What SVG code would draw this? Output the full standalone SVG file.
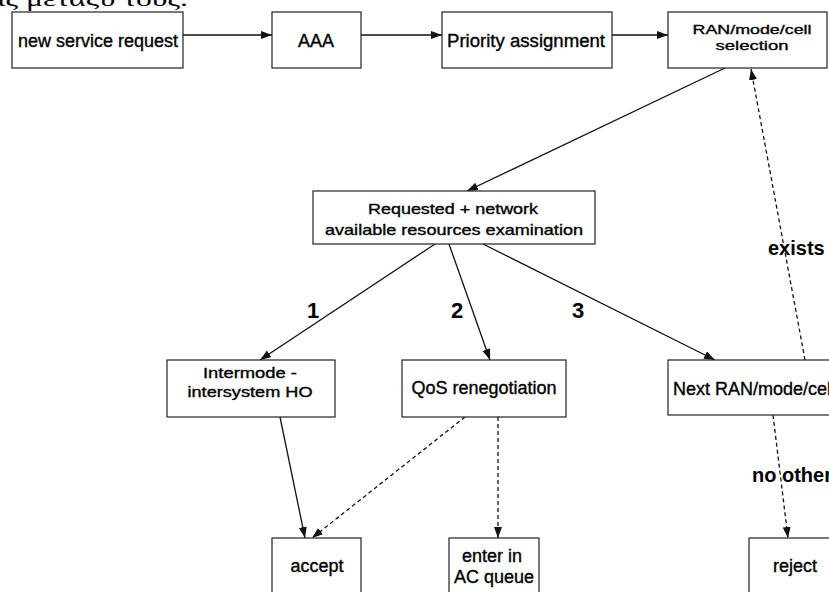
<svg xmlns="http://www.w3.org/2000/svg" width="829" height="592" viewBox="0 0 829 592">
  <style>
    .box { fill: #ffffff; stroke: #222222; stroke-width: 1.2; }
    .t { font-family: "Liberation Sans", Arial, sans-serif; font-size: 18px; fill: #000000; stroke: #000000; stroke-width: 0.35; text-anchor: middle; }
    .sm { font-size: 15px; }
    .xs { font-size: 13.5px; }
    .lbl { font-family: "Liberation Sans", Arial, sans-serif; font-weight: bold; font-size: 20px; fill: #000000; }
    .num { font-size: 22px; }
    .ln { fill: none; stroke: #111111; stroke-width: 1.3; marker-end: url(#arr); }
    .dash { stroke-dasharray: 4 3; }
    .body { font-family: "Liberation Serif", "Times New Roman", serif; font-size: 22px; fill: #000000; }
  </style>
  <defs>
    <marker id="arr" markerUnits="userSpaceOnUse" markerWidth="12" markerHeight="9" refX="11" refY="4" orient="auto">
      <path d="M0,0 L11,4 L0,8 Z" fill="#111111"/>
    </marker>
  </defs>
  <rect width="829" height="592" fill="#ffffff"/>

  <!-- tail of the preceding paragraph, cut by the page edge -->
  <text class="body" x="-3" y="6" textLength="191" lengthAdjust="spacingAndGlyphs">ις μεταξύ τους.</text>

  <g id="connectors">
    <line class="ln" x1="183" y1="35" x2="272" y2="35"/>
    <line class="ln" x1="361" y1="35" x2="442" y2="35"/>
    <line class="ln" x1="612" y1="35" x2="668" y2="35"/>
    <line class="ln" x1="725" y1="68" x2="467" y2="191"/>
    <line class="ln" x1="435" y1="244" x2="260" y2="360"/>
    <line class="ln" x1="449" y1="244" x2="490" y2="360"/>
    <line class="ln" x1="483" y1="244" x2="715" y2="360"/>
    <line class="ln dash" x1="805" y1="360" x2="751" y2="69"/>
    <line class="ln" x1="280" y1="417" x2="305" y2="538"/>
    <line class="ln dash" x1="465" y1="417" x2="312" y2="538"/>
    <line class="ln dash" x1="498" y1="417" x2="498" y2="538"/>
    <line class="ln dash" x1="773" y1="415" x2="788" y2="538"/>
    <text class="lbl num" x="307" y="318">1</text>
    <text class="lbl num" x="451" y="318">2</text>
    <text class="lbl num" x="572" y="318">3</text>
    <text class="lbl" x="768" y="255">exists</text>
    <text class="lbl" x="752" y="482">no other</text>
  </g>

  <g id="new-service-request">
    <rect class="box" x="12" y="12" width="171" height="56"/>
    <text class="t" x="98" y="47" textLength="160" lengthAdjust="spacingAndGlyphs">new service request</text>
  </g>
  <g id="aaa">
    <rect class="box" x="272" y="12" width="89" height="56"/>
    <text class="t" x="316" y="47">AAA</text>
  </g>
  <g id="priority-assignment">
    <rect class="box" x="442" y="12" width="170" height="56"/>
    <text class="t" x="526" y="47" textLength="158" lengthAdjust="spacingAndGlyphs">Priority assignment</text>
  </g>
  <g id="ran-selection">
    <rect class="box" x="668" y="12" width="159" height="56"/>
    <text class="t xs" x="752" y="34" textLength="119" lengthAdjust="spacingAndGlyphs">RAN/mode/cell</text>
    <text class="t xs" x="752" y="50" textLength="73" lengthAdjust="spacingAndGlyphs">selection</text>
  </g>
  <g id="resources-examination">
    <rect class="box" x="313" y="191" width="282" height="53"/>
    <text class="t sm" x="453" y="214" textLength="170" lengthAdjust="spacingAndGlyphs">Requested + network</text>
    <text class="t sm" x="454" y="235" textLength="258" lengthAdjust="spacingAndGlyphs">available resources examination</text>
  </g>
  <g id="intermode-ho">
    <rect class="box" x="167" y="360" width="168" height="57"/>
    <text class="t sm" x="250" y="378" textLength="94" lengthAdjust="spacingAndGlyphs">Intermode -</text>
    <text class="t sm" x="250" y="397" textLength="125" lengthAdjust="spacingAndGlyphs">intersystem HO</text>
  </g>
  <g id="qos-renegotiation">
    <rect class="box" x="402" y="360" width="164" height="57"/>
    <text class="t" x="484" y="394">QoS renegotiation</text>
  </g>
  <g id="next-ran">
    <rect class="box" x="668" y="360" width="170" height="55"/>
    <text class="t" x="673" y="395" style="text-anchor:start">Next RAN/mode/cell</text>
  </g>
  <g id="accept">
    <rect class="box" x="272" y="538" width="89" height="62"/>
    <text class="t" x="317" y="572">accept</text>
  </g>
  <g id="ac-queue">
    <rect class="box" x="449" y="538" width="90" height="62"/>
    <text class="t" x="492" y="562">enter in</text>
    <text class="t" x="494" y="583">AC queue</text>
  </g>
  <g id="reject">
    <rect class="box" x="749" y="538" width="95" height="62"/>
    <text class="t" x="795" y="572">reject</text>
  </g>
</svg>
